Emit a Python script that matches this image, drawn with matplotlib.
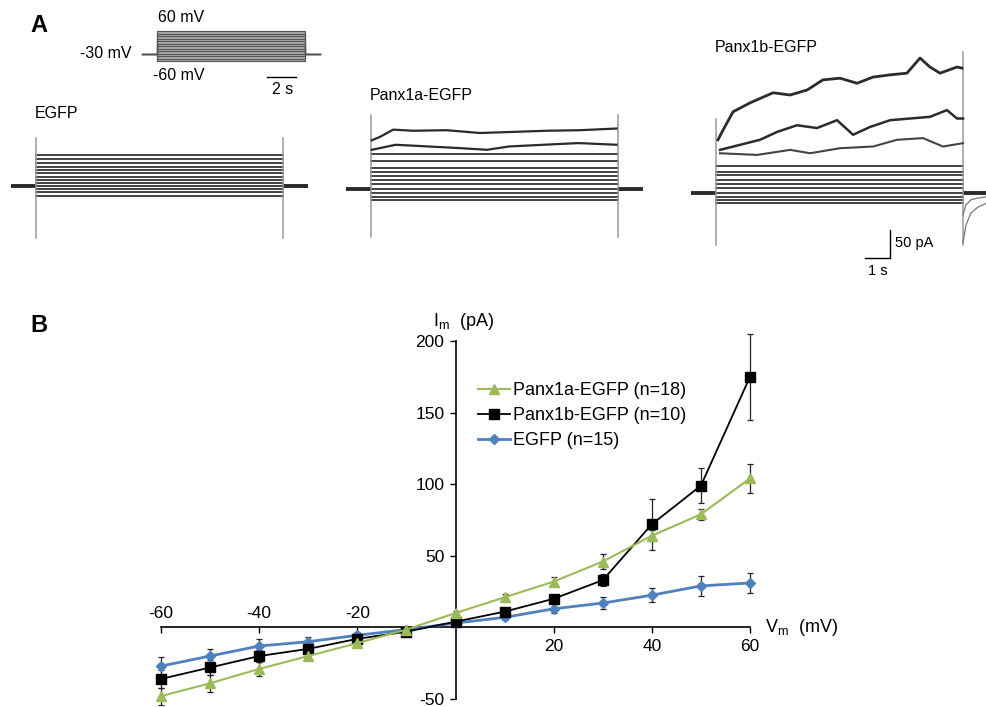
import numpy as np
import matplotlib
matplotlib.use("Agg")
import matplotlib.pyplot as plt

plt.rcParams['font.family'] = ['Liberation Sans', 'DejaVu Sans']
plt.rcParams['mathtext.default'] = 'regular'
plt.rcParams['axes.unicode_minus'] = False

W, H = 987, 707

# ---------------- panel B data (I-V curves) ----------------
vm = [-60, -50, -40, -30, -20, -10, 0, 10, 20, 30, 40, 50, 60]
panx1a = [-48, -39, -29, -20, -11, -1.5, 10, 21, 32, 46, 64, 79, 104]
panx1a_err = [6, 6, 5, 2, 2, 1, 1.5, 2, 3, 5, 4, 4, 10]
panx1b = [-36, -28, -20, -15, -8, -3, 4, 11, 20, 33, 72, 99, 175]
panx1b_err = [6, 5, 4, 3, 2, 1, 1, 1.5, 2, 4, 18, 12, 30]
egfp = [-27, -20, -13, -10, -5.5, -1.5, 3, 7, 13, 17, 22.5, 29, 31]
egfp_err = [6, 5, 5, 3, 2, 1, 1, 1.5, 3, 4, 5, 7, 7]

# ---------------- panel A data (current traces) ----------------
step_levels_mv = [-60, -50, -40, -30, -20, -10, 0, 10, 20, 30, 40, 50, 60]
egfp_trace_pa = [-18, -11, -5, 0, 5, 11, 16, 23, 29, 34, 41, 48, 55]
panx1a_trace_pa = [-20, -14, -7, 0, 9, 16, 23, 30, 37, 50, 62]
panx1b_trace_pa = [-18, -13, -7, 0, 9, 16, 23, 32, 37, 48]

# larger traces read as time courses (s, pA)
panx1a_top_t = [0.03, 0.36, 0.9, 1.71, 3.06, 4.41, 5.76, 7.11, 8.46, 9.94]
panx1a_top_i = [87, 93, 106, 104, 105, 100, 102, 104, 105, 108]
panx1a_2nd_t = [0.03, 1.0, 2.3, 3.6, 4.7, 5.6, 7.0, 8.4, 9.94]
panx1a_2nd_i = [70, 79, 76, 73, 70, 76, 79, 82, 79]

panx1b_top_t = [0.08, 0.28, 0.69, 1.38, 2.31, 3.0, 3.69, 4.33, 5.02, 5.71,
                6.36, 7.05, 7.73, 8.26, 8.66, 9.07, 9.76, 9.96]
panx1b_top_i = [95, 112, 145, 161, 179, 175, 184, 202, 205, 196,
                207, 211, 214, 241, 225, 214, 225, 223]
panx1b_2nd_t = [0.16, 0.97, 1.78, 2.47, 3.28, 4.09, 4.9, 5.55, 6.24, 7.05,
                7.85, 8.66, 9.35, 9.76, 10.0]
panx1b_2nd_i = [77, 86, 95, 109, 121, 116, 130, 104, 118, 130,
                133, 136, 148, 133, 133]
panx1b_3rd_t = [0.16, 1.66, 3.0, 3.81, 5.02, 6.36, 7.33, 8.38, 9.19, 10.0]
panx1b_3rd_i = [71, 68, 77, 71, 80, 83, 95, 98, 83, 89]
tail_t = [10.0, 10.12, 10.32, 10.61, 10.97]
tail_deep_i = [-89, -57, -36, -25, -18]
tail_mid_i = [-39, -21, -12, -9, -7]

fig = plt.figure(figsize=(W / 100, H / 100), dpi=100)


def frac_box(x0, y0, x1, y1):
    return [x0 / W, 1 - y1 / H, (x1 - x0) / W, (y1 - y0) / H]


def ftext(x, y, s, **kw):
    fig.text(x / W, 1 - y / H, s, **kw)


def scaled_axes(box, ref_px, ref_val, k):
    ax = fig.add_axes(frac_box(*box))
    x0, y0, x1, y1 = box
    ax.set_xlim(ref_val[0] + (x0 - ref_px[0]) / k[0], ref_val[0] + (x1 - ref_px[0]) / k[0])
    ax.set_ylim(ref_val[1] - (y1 - ref_px[1]) / k[1], ref_val[1] - (y0 - ref_px[1]) / k[1])
    ax.axis('off')
    return ax


trace_col = '#2b2b2b'
cap_col = '#9a9a9a'
k_trace = (24.7, 0.56)


def draw_cell(ax, levels, cap_top, cap_bot, cap_top_end=None):
    if cap_top_end is None:
        cap_top_end = cap_top
    ax.plot([-1.0, 0], [0, 0], color=trace_col, lw=2.8, solid_capstyle='butt')
    ax.plot([10, 11.0], [0, 0], color=trace_col, lw=2.8, solid_capstyle='butt')
    for lv in levels:
        ax.plot([0, 10], [lv, lv], color=trace_col, lw=1.25)
    ax.plot([0, 0], [cap_bot, cap_top], color=cap_col, lw=1.1)
    ax.plot([10, 10], [cap_bot, cap_top_end], color=cap_col, lw=1.1)


# --- voltage protocol inset ---
axp = scaled_axes((60, 0, 340, 100), (157, 53.5), (0, -30), (14.8, 0.25))
axp.fill_between([0, 10], -60, 60, color='#a8a8a8', lw=0)
for lv in step_levels_mv:
    axp.plot([-1, 0, 0, 10, 10, 11], [-30, -30, lv, lv, -30, -30], color='#555555', lw=0.8)
axp.plot([7.4, 9.4], [-124, -124], color='k', lw=1.0)
ftext(158, 18, '60 mV', fontsize=11.5, va='center', ha='left')
ftext(132, 53, '-30 mV', fontsize=11.5, va='center', ha='right')
ftext(153, 75, '-60 mV', fontsize=11.5, va='center', ha='left')
ftext(283, 89, '2 s', fontsize=11.5, va='center', ha='center')

# --- EGFP cell ---
ax1 = scaled_axes((0, 95, 330, 260), (36, 186), (0, 0), k_trace)
draw_cell(ax1, egfp_trace_pa, 86, -93)
ftext(35, 113, 'EGFP', fontsize=11.5, va='center', ha='left')

# --- Panx1a cell ---
ax2 = scaled_axes((330, 80, 680, 260), (371, 189), (0, 0), k_trace)
draw_cell(ax2, panx1a_trace_pa, 132, -86)
ax2.plot(panx1a_2nd_t, panx1a_2nd_i, color=trace_col, lw=1.6)
ax2.plot(panx1a_top_t, panx1a_top_i, color=trace_col, lw=1.6)
ftext(370, 96, 'Panx1a-EGFP', fontsize=11.5, va='center', ha='left')

# --- Panx1b cell ---
ax3 = scaled_axes((680, 30, 987, 290), (716, 193), (0, 0), k_trace)
draw_cell(ax3, panx1b_trace_pa, 132, -93, cap_top_end=252)
ax3.plot(panx1b_3rd_t, panx1b_3rd_i, color='#444444', lw=1.5)
ax3.plot(panx1b_2nd_t, panx1b_2nd_i, color=trace_col, lw=1.8)
ax3.plot(panx1b_top_t, panx1b_top_i, color=trace_col, lw=2.0)
ax3.plot(tail_t, tail_deep_i, color='#777777', lw=0.9)
ax3.plot(tail_t, tail_mid_i, color='#777777', lw=0.9)
ax3.plot([7.04, 7.04], [-66, -116], color='k', lw=1.0)
ax3.plot([6.04, 7.04], [-116, -116], color='k', lw=1.0)
ftext(715, 48, 'Panx1b-EGFP', fontsize=11.5, va='center', ha='left')
ftext(895, 243, '50 pA', fontsize=10.5, va='center', ha='left')
ftext(878, 271, '1 s', fontsize=10.5, va='center', ha='center')

ftext(30, 25, 'A', fontsize=17, fontweight='bold', va='center', ha='left')
ftext(30, 326, 'B', fontsize=17, fontweight='bold', va='center', ha='left')

# ---------------- panel B ----------------
ax = fig.add_axes(frac_box(161, 341, 750, 699))
ax.set_xlim(-60, 60)
ax.set_ylim(-50, 200)
for s in ['top', 'right']:
    ax.spines[s].set_visible(False)
ax.spines['left'].set_position(('data', 0))
ax.spines['bottom'].set_position(('data', 0))
ax.spines['left'].set_linewidth(1.2)
ax.spines['bottom'].set_linewidth(1.2)
ax.set_yticks([-50, 50, 100, 150, 200])
ax.set_xticks([-60, -40, -20, 20, 40, 60])
ax.set_xticklabels([])
ax.tick_params(axis='y', direction='out', length=4, width=1, labelsize=12.5, pad=4)
ax.tick_params(axis='x', direction='out', length=4, width=1)
for x in [-60, -40, -20]:
    ax.annotate(str(x), (x, 0), xytext=(0, 4.5), textcoords='offset points',
                ha='center', va='bottom', fontsize=12.5)
for x in [20, 40, 60]:
    ax.annotate(str(x), (x, 0), xytext=(0, -8), textcoords='offset points',
                ha='center', va='top', fontsize=12.5)

green = '#9bbb59'
blue = '#4f81bd'
for y, e in [(panx1a, panx1a_err), (panx1b, panx1b_err), (egfp, egfp_err)]:
    ax.errorbar(vm, y, yerr=e, fmt='none', ecolor='#222222', elinewidth=0.9,
                capsize=2.3, capthick=0.9, clip_on=False, zorder=2)
ax.plot(vm, egfp, color=blue, lw=2.0, marker='D', ms=5, clip_on=False, zorder=3,
        label='EGFP (n=15)')
ax.plot(vm, panx1b, color='k', lw=1.3, marker='s', ms=7, clip_on=False, zorder=4,
        label='Panx1b-EGFP (n=10)')
ax.plot(vm, panx1a, color=green, lw=1.5, marker='^', ms=7, clip_on=False, zorder=5,
        label='Panx1a-EGFP (n=18)')

handles, labels = ax.get_legend_handles_labels()
order = [2, 1, 0]
ax.legend([handles[i] for i in order], [labels[i] for i in order],
          loc='upper left', bbox_to_anchor=(478 / W, 1 - 382 / H),
          bbox_transform=fig.transFigure, frameon=False, fontsize=13,
          borderpad=0, borderaxespad=0, handlelength=1.8, handletextpad=0.15,
          labelspacing=0.45)

ftext(433, 321, r'I$_{m}$  (pA)', fontsize=13, va='center', ha='left')
ftext(765, 628, r'V$_{m}$  (mV)', fontsize=13, va='center', ha='left')

fig.savefig('out.png', dpi=100)
